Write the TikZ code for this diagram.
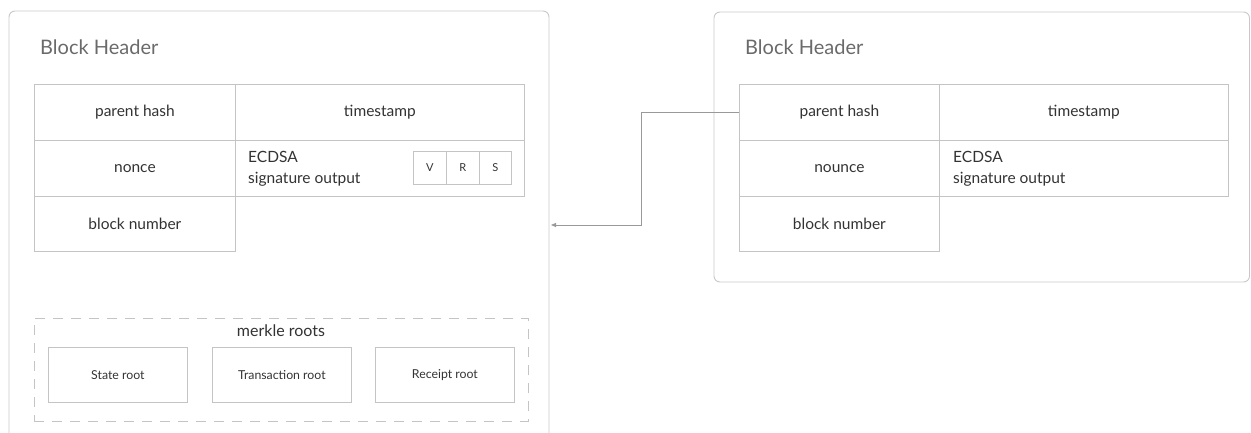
\documentclass[tikz,border=0pt]{standalone}
\usepackage{fontspec}
\setmainfont{Lato}
\usetikzlibrary{arrows.meta}
\definecolor{linegray}{HTML}{C4C4C4}
\definecolor{boxgray}{HTML}{C8C8C8}
\definecolor{txt}{HTML}{333333}
\definecolor{hdr}{HTML}{6A6A6A}
\tikzset{
  cell/.style={draw=linegray, line width=0.8pt, inner sep=0pt, anchor=north west,
    font=\fontsize{15.5}{18}\selectfont, text=txt},
  small/.style={cell, font=\fontsize{11}{13}\selectfont},
  rootbox/.style={cell, font=\fontsize{12.3}{14}\selectfont, minimum width=139pt, minimum height=55pt},
  hdrtext/.style={anchor=west, inner sep=0pt, font=\fontsize{20}{23}\selectfont, text=hdr},
  sigtext/.style={anchor=west, inner sep=0pt, align=left, font=\fontsize{15.5}{20.5}\selectfont, text=txt},
  outer/.style={draw=boxgray, line width=0.9pt, rounded corners=6pt},
  merklebox/.style={draw=linegray, line width=0.8pt, dash pattern=on 10pt off 8pt, inner sep=0pt,
    anchor=north west, minimum width=494pt, minimum height=103pt},
  conn/.style={draw=gray!80, line width=0.8pt, -{Triangle[length=5pt,width=4pt]}},
}
\begin{document}
\begin{tikzpicture}[x=1pt,y=-1pt]
\useasboundingbox (0,0) rectangle (1251,432);
% left block
\draw[outer] (9,433) -- (9,11) -- (549,11) -- (549,433);
\node[hdrtext] (hL) at (40,47) {Block Header};
\node[cell, minimum width=201pt, minimum height=56pt] (pL) at (34,84) {parent hash};
\node[cell, minimum width=289pt, minimum height=56pt] (tL) at (235,84) {timestamp};
\node[cell, minimum width=201pt, minimum height=56pt] (nL) at (34,140) {nonce};
\node[cell, minimum width=289pt, minimum height=56pt] (eL) at (235,140) {};
\node[sigtext] (sL) at (248,169) {ECDSA\\signature output};
\node[small, minimum width=33pt, minimum height=33pt] (v) at (413,151) {V};
\node[small, minimum width=33pt, minimum height=33pt] (r) at (446,151) {R};
\node[small, minimum width=32pt, minimum height=33pt] (s) at (479,151) {S};
\node[cell, minimum width=201pt, minimum height=55pt] (bL) at (34,196) {block number};
% merkle roots
\node[merklebox] (mk) at (34,318) {};
\node[anchor=center, inner sep=0pt, font=\fontsize{16}{18}\selectfont, text=txt] (mkt) at (281,331) {merkle roots};
\node[rootbox] (sr) at (48,347) {State root};
\node[rootbox] (tr) at (212,347) {Transaction root};
\node[rootbox] (rr) at (375,347) {Receipt root};
% right block
\draw[outer] (714,12) rectangle (1249.5,282);
\node[hdrtext] (hR) at (745,47) {Block Header};
\node[cell, minimum width=200pt, minimum height=56pt] (pR) at (739,84) {parent hash};
\node[cell, minimum width=289pt, minimum height=56pt] (tR) at (939,84) {timestamp};
\node[cell, minimum width=200pt, minimum height=56pt] (nR) at (739,140) {nounce};
\node[cell, minimum width=289pt, minimum height=56pt] (eR) at (939,140) {};
\node[sigtext] (sR) at (953,169) {ECDSA\\signature output};
\node[cell, minimum width=200pt, minimum height=55pt] (bR) at (739,196) {block number};
% connector
\coordinate (tip) at (551,225);
\draw[conn] (pR.west) -- ++(-98,0) |- (tip);
\end{tikzpicture}
\end{document}
